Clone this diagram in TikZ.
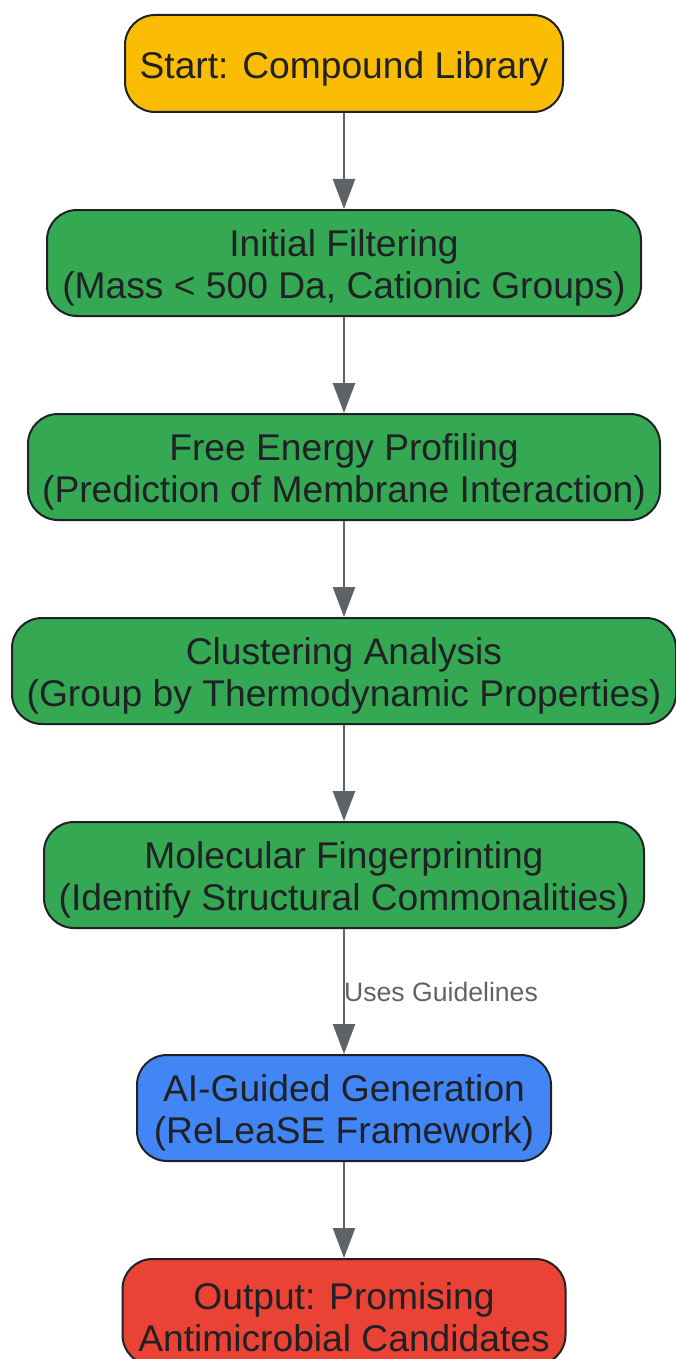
\documentclass[tikz,border=0pt]{standalone}
\usepackage{fontspec}
\setmainfont{Liberation Sans}
\usetikzlibrary{arrows.meta,positioning}
\definecolor{startc}{HTML}{FBBC04}
\definecolor{stepc}{HTML}{34A853}
\definecolor{genc}{HTML}{4285F4}
\definecolor{outc}{HTML}{EA4335}
\definecolor{edgec}{HTML}{202124}
\definecolor{arrowc}{HTML}{5F6368}

\begin{document}
\begin{tikzpicture}[x=1pt,y=-1pt,
  box/.style={draw=edgec, line width=2pt, rounded corners=30pt, minimum height=106pt, inner sep=0pt},
  boxtext/.style={text=edgec, align=center, font=\fontsize{37.2}{42}\selectfont, inner sep=0pt},
  flow/.style={draw=arrowc, line width=2.5pt, -{Triangle[length=30pt,width=22pt]}},
  flowlbl/.style={text=arrowc, font=\fontsize{26.6}{30}\selectfont, anchor=west, inner sep=0pt}]
  \useasboundingbox (0,0) rectangle (676,1359);
  % boxes
  \node[box, fill=startc, minimum width=438pt, minimum height=97pt] (start) at (344,63.5) {};
  \node[box, fill=stepc, minimum width=594pt] (filter) at (344,263) {};
  \node[box, fill=stepc, minimum width=632pt] (energy) at (344,467) {};
  \node[box, fill=stepc, minimum width=664pt] (cluster) at (344,671) {};
  \node[box, fill=stepc, minimum width=600pt] (finger) at (344,875) {};
  \node[box, fill=genc, minimum width=414pt] (gen) at (344,1108) {};
  \node[box, fill=outc, minimum width=443pt] (out) at (344,1312) {};
  % texts
  \node[boxtext] (starttext) at ([yshift=-5pt]start) {Start: Compound Library};
  \node[boxtext] (filtertext) at ([yshift=-5pt]filter) {Initial Filtering\\(Mass < 500 Da, Cationic Groups)};
  \node[boxtext] (energytext) at ([yshift=-5pt]energy) {Free Energy Profiling\\(Prediction of Membrane Interaction)};
  \node[boxtext] (clustertext) at ([yshift=-5pt]cluster) {Clustering Analysis\\(Group by Thermodynamic Properties)};
  \node[boxtext] (fingertext) at ([yshift=-5pt]finger) {Molecular Fingerprinting\\(Identify Structural Commonalities)};
  \node[boxtext] (gentext) at ([yshift=-5pt]gen) {AI-Guided Generation\\(ReLeaSE Framework)};
  \node[boxtext] (outtext) at ([yshift=-5pt]out) {Output: Promising\\Antimicrobial Candidates};
  % connectors
  \draw[flow] (start) -- (filter);
  \draw[flow] (filter) -- (energy);
  \draw[flow] (energy) -- (cluster);
  \draw[flow] (cluster) -- (finger);
  \draw[flow] (finger) -- (gen);
  \draw[flow] (gen) -- (out);
  \node[flowlbl] (uses) at (344,992) {Uses Guidelines};
\end{tikzpicture}
\end{document}
